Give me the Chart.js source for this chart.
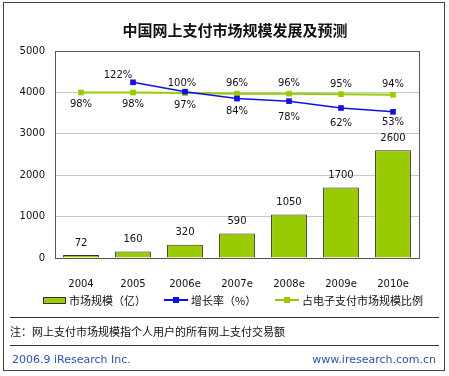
<!DOCTYPE html>
<html>
<head>
<meta charset="utf-8">
<script src="https://cdn.jsdelivr.net/npm/chart.js@4"></script>
<style>
  body { margin: 0; background: #fff; }
  #wrap { position: relative; width: 449px; height: 376px; font-family: "DejaVu Sans", sans-serif; }
  #frame { position: absolute; left: 3px; top: 2px; width: 442px; height: 369px; border: 1px solid #444; box-sizing: border-box; }
  canvas { position: absolute; left: 0; top: 0; }
  .txt { position: absolute; white-space: nowrap; font-family: "Noto Sans CJK SC", sans-serif; }
  #title { left: 0; width: 470px; top: 19px; text-align: center; font-size: 15px; font-weight: bold; color: #111; }
  .leg { position: absolute; top: 292px; font-size: 11px; color: #111; font-family: "Noto Sans CJK SC", sans-serif; white-space: nowrap; }
  .sw { position: absolute; }
  .hr { position: absolute; left: 10px; width: 429px; height: 1px; background: #333; }
</style>
</head>
<body>
<div id="wrap">
  <canvas id="chart" width="449" height="376"></canvas>
  <div id="frame"></div>
  <div id="title" class="txt">中国网上支付市场规模发展及预测</div>

  <div class="sw" style="left:43px; top:297px; width:21px; height:5px; background:#99cc00; border:1px solid #333;"></div>
  <div class="leg" style="left:69px;">市场规模（亿）</div>
  <div class="sw" style="left:164px; top:299px; width:24px; height:2px; background:#1010ee;"></div>
  <div class="sw" style="left:173px; top:297px; width:6px; height:6px; background:#1010ee;"></div>
  <div class="leg" style="left:191px;">增长率（%）</div>
  <div class="sw" style="left:275px; top:299px; width:24px; height:2px; background:#99cc00;"></div>
  <div class="sw" style="left:284px; top:297px; width:6px; height:6px; background:#99cc00;"></div>
  <div class="leg" style="left:302px;">占电子支付市场规模比例</div>

  <div class="hr" style="top:317px;"></div>
  <div class="txt" style="left:10px; top:323px; font-size:11px; color:#111;">注：网上支付市场规模指个人用户的所有网上支付交易额</div>
  <div class="hr" style="top:345px;"></div>
  <div class="txt" style="left:12px; top:353px; font-size:11px; color:#2a52be; font-family:'DejaVu Sans',sans-serif;">2006.9 iResearch Inc.</div>
  <div class="txt" style="right:13px; top:353px; font-size:11px; color:#2a52be; font-family:'DejaVu Sans',sans-serif;">www.iresearch.com.cn</div>
</div>

<script>
// 数据
const years = ['2004', '2005', '2006e', '2007e', '2008e', '2009e', '2010e'];
const marketSize = [72, 160, 320, 590, 1050, 1700, 2600];
const growthRate = [null, 122, 100, 84, 78, 62, 53];
const shareOfEpay = [98, 98, 97, 96, 96, 95, 94];
const yTicks = [0, 1000, 2000, 3000, 4000, 5000];

// 标签位置（相对于点的偏移）
const growthLabelPos = [null, [-15, -7], [-3, -8], [0, 13], [0, 16], [0, 15], [0, 11]];
const shareLabelPos = [[0, 12], [0, 12], [0, 12], [0, -10], [0, -10], [0, -10], [0, -10]];

const labelPlugin = {
  id: 'valueLabels',
  afterDatasetsDraw(chart) {
    const ctx = chart.ctx;
    ctx.save();
    ctx.font = '10px "DejaVu Sans", sans-serif';
    ctx.fillStyle = '#111';
    ctx.textAlign = 'center';
    ctx.textBaseline = 'middle';
    chart.getDatasetMeta(0).data.forEach((bar, i) => {
      ctx.fillText(String(marketSize[i]), bar.x, bar.y - 12);
    });
    chart.getDatasetMeta(1).data.forEach((pt, i) => {
      if (growthRate[i] == null) return;
      const o = growthLabelPos[i];
      ctx.fillText(growthRate[i] + '%', pt.x + o[0], pt.y + o[1]);
    });
    chart.getDatasetMeta(2).data.forEach((pt, i) => {
      const o = shareLabelPos[i];
      ctx.fillText(shareOfEpay[i] + '%', pt.x + o[0], pt.y + o[1]);
    });
    // 绘图区边框
    const a = chart.chartArea;
    ctx.strokeStyle = '#555';
    ctx.lineWidth = 1;
    ctx.strokeRect(Math.round(a.left) + 0.5, Math.round(a.top) + 0.5, Math.round(a.right - a.left), Math.round(a.bottom - a.top));
    ctx.restore();
  }
};

new Chart(document.getElementById('chart'), {
  type: 'bar',
  data: {
    labels: years,
    datasets: [
      {
        label: '市场规模（亿）',
        data: marketSize,
        backgroundColor: '#99cc00',
        borderColor: '#333',
        borderWidth: 1,
        barPercentage: 0.69,
        categoryPercentage: 1,
        yAxisID: 'y',
        order: 3
      },
      {
        type: 'line',
        label: '增长率（%）',
        data: growthRate,
        borderColor: '#1010ee',
        backgroundColor: '#1010ee',
        borderWidth: 1.5,
        pointStyle: 'rect',
        pointRadius: 4,
        pointBorderWidth: 0,
        yAxisID: 'yGrowth',
        order: 1
      },
      {
        type: 'line',
        label: '占电子支付市场规模比例',
        data: shareOfEpay,
        borderColor: '#99cc00',
        backgroundColor: '#99cc00',
        borderWidth: 2,
        pointStyle: 'rect',
        pointRadius: 4,
        pointBorderWidth: 0,
        yAxisID: 'yShare',
        order: 2
      }
    ]
  },
  options: {
    responsive: false,
    animation: false,
    layout: { padding: { left: 5, right: 30, top: 51, bottom: 88 } },
    plugins: { legend: { display: false }, tooltip: { enabled: false } },
    scales: {
      x: {
        grid: { display: false },
        border: { display: true, color: '#555' },
        ticks: { color: '#111', font: { size: 10, family: 'DejaVu Sans' }, padding: 12 },
        afterFit(scale) { scale.height = 30; }
      },
      y: {
        min: 0,
        max: 5000,
        afterBuildTicks(scale) { scale.ticks = yTicks.map(v => ({ value: v })); },
        grid: { color: '#c8c8c8', drawTicks: false },
        border: { display: true, color: '#555' },
        ticks: {
          color: '#111',
          font: { size: 10, family: 'DejaVu Sans' },
          padding: 10,
          callback: v => String(v)
        },
        afterFit(scale) { scale.width = 50; }
      },
      yGrowth: { display: false, min: -288, max: 195 },
      yShare: { display: false, min: -193, max: 171 }
    }
  },
  plugins: [labelPlugin]
});
</script>
</body>
</html>
